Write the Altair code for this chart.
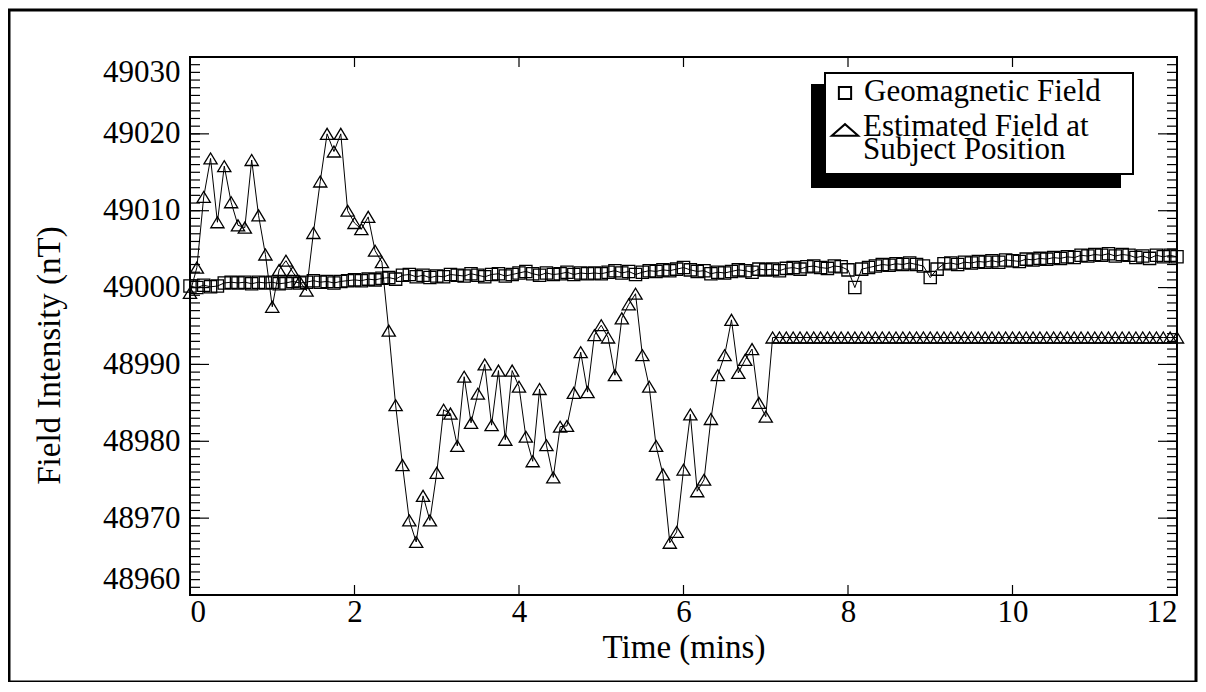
import altair as alt
import pandas as pd

# ---------------- data ----------------
SAMPLE_MIN = 5 / 60  # one sample every 5 seconds

geomagnetic = [
    49000.2, 49000.0, 49000.3, 49000.1, 49000.2,
    49000.6, 49000.7, 49000.6, 49000.7, 49000.5, 49000.7, 49000.6,
    49000.7, 49000.5, 49000.6, 49000.8, 49000.6, 49000.7, 49000.9, 49000.7, 49000.8, 49000.6, 49000.8, 49000.9,
    49001.0, 49000.9, 49001.1, 49001.0, 49001.2, 49001.3, 49001.1, 49001.6, 49001.7, 49001.4, 49001.6, 49001.3,
    49001.5, 49001.4, 49001.7, 49001.6, 49001.5, 49001.8, 49001.6, 49001.4, 49001.7, 49001.8, 49001.5, 49001.7,
    49001.9, 49002.1, 49001.8, 49001.6, 49001.9, 49001.7, 49001.8, 49002.0, 49001.7, 49001.9, 49001.8, 49001.9,
    49001.8, 49002.0, 49002.2, 49001.9, 49002.1, 49001.7, 49002.0, 49002.2, 49002.1, 49002.3, 49002.2, 49002.4,
    49002.6, 49002.3, 49002.1, 49002.2, 49001.8, 49002.0, 49001.9, 49002.1, 49002.3, 49002.2, 49002.0, 49002.4,
    49002.3, 49002.4, 49002.2, 49002.5, 49002.6, 49002.4, 49002.7, 49002.8, 49002.6, 49002.5, 49002.8, 49002.7,
    49002.3, 49000.0, 49002.4, 49002.6, 49002.8, 49003.0, 49002.9, 49003.1, 49003.0, 49003.2, 49003.0, 49002.8,
    49001.3, 49002.4, 49003.1, 49003.2, 49003.0, 49003.3, 49003.2, 49003.4, 49003.3, 49003.5, 49003.3, 49003.6,
    49003.5, 49003.4, 49003.7, 49003.6, 49003.8, 49003.7, 49003.9, 49003.8, 49004.0, 49003.9, 49004.2, 49004.1,
    49004.3, 49004.2, 49004.4, 49004.1, 49004.3, 49004.2, 49003.9, 49004.1, 49003.8, 49004.2, 49004.0, 49004.2,
    49004.0,
]

estimated = [
    48999.3, 49002.6, 49011.8, 49016.8, 49008.5, 49015.8, 49011.1, 49008.1, 49007.8, 49016.6,
    49009.4, 49004.3, 48997.5, 49002.3, 49003.5, 49002.0, 49000.8, 48999.6, 49007.1, 49013.8,
    49020.0, 49017.7, 49020.0, 49010.0, 49008.4, 49007.6, 49009.2, 49004.8, 49003.3, 48994.4,
    48984.7, 48976.9, 48969.7, 48966.9, 48972.9, 48969.7, 48975.9, 48984.1, 48983.6, 48979.4,
    48988.4, 48982.4, 48986.2, 48990.0, 48982.1, 48989.2, 48980.2, 48989.2, 48987.1, 48980.6,
    48977.4, 48986.8, 48979.5, 48975.3, 48981.9, 48982.0, 48986.3, 48991.6, 48986.4, 48993.8,
    48995.1, 48993.5, 48988.6, 48996.0, 48997.8, 48999.2, 48991.2, 48987.1, 48979.4, 48975.7,
    48966.8, 48968.2, 48976.3, 48983.5, 48973.5, 48975.0, 48982.9, 48988.6, 48991.2, 48995.8,
    48988.9, 48990.6, 48992.0, 48985.0, 48983.2,
] + [48993.5] * 60

time_min = [round(i * SAMPLE_MIN, 5) for i in range(len(geomagnetic))]

series_names = ["Geomagnetic Field", "Estimated Field at Subject Position"]
legend_lines = ["Geomagnetic Field", "Estimated Field at", "Subject Position"]

x_ticks = [0, 2, 4, 6, 8, 10, 12]
y_major = [48960, 48970, 48980, 48990, 49000, 49010, 49020, 49030]
y_minor = list(range(48960, 49031))

# ---------------- layout / style ----------------
W, H = 987, 538
FONT = "Liberation Serif"
FS = 31
TFS = 33

df_geo = pd.DataFrame({"time": time_min, "value": geomagnetic, "series": series_names[0]})
df_est = pd.DataFrame({"time": time_min, "value": estimated, "series": series_names[1]})

xs = alt.Scale(domain=[0, 12], nice=False, zero=False)
ys = alt.Scale(domain=[48960, 49030], nice=False, zero=False)

x_axis = alt.Axis(values=x_ticks, title="Time (mins)", ticks=False, domain=False, grid=False,
                  labelPadding=2, titlePadding=4, format="d")
y_axis = alt.Axis(values=y_major, title="Field Intensity (nT)", ticks=False, domain=False, grid=False,
                  labelPadding=10, titlePadding=36, labelFlush=True, format="d", titleY=298)

X = alt.X("time:Q", scale=xs, axis=x_axis)
Y = alt.Y("value:Q", scale=ys, axis=y_axis)

TRI = "M-1,0.83L0,-0.83L1,0.83Z"
TRI_WIDE = "M-1,0.44L0,-0.44L1,0.44Z"

geo_line = alt.Chart(df_geo).mark_line(color="black", strokeWidth=1).encode(x=X, y=Y)
geo_pts = alt.Chart(df_geo).mark_point(shape="square", size=150, filled=False, color="black",
                                       strokeWidth=1.3, opacity=1).encode(x=X, y=Y)
est_line = alt.Chart(df_est).mark_line(color="black", strokeWidth=1).encode(x=X, y=Y)
est_pts = alt.Chart(df_est).mark_point(shape=TRI, size=175, filled=False, color="black",
                                       strokeWidth=1.3, opacity=1).encode(x=X, y=Y)

# inward tick marks (xmgrace style), positioned by the shared scales
ymaj = pd.DataFrame({"value": y_major})
ymin = pd.DataFrame({"value": y_minor})
xmaj = pd.DataFrame({"time": x_ticks})
tick_style = dict(color="black", strokeWidth=1.2)
ticks = [
    alt.Chart(ymaj).mark_rule(**tick_style).encode(y=Y, x=alt.value(0), x2=alt.value(19)),
    alt.Chart(ymaj).mark_rule(**tick_style).encode(y=Y, x=alt.value(W - 19), x2=alt.value(W)),
    alt.Chart(ymin).mark_rule(**tick_style).encode(y=Y, x=alt.value(0), x2=alt.value(10)),
    alt.Chart(ymin).mark_rule(**tick_style).encode(y=Y, x=alt.value(W - 10), x2=alt.value(W)),
    alt.Chart(xmaj).mark_rule(**tick_style).encode(x=X, y=alt.value(H - 10), y2=alt.value(H)),
    alt.Chart(xmaj).mark_rule(**tick_style).encode(x=X, y=alt.value(0), y2=alt.value(10)),
]

# outer page frame
one = pd.DataFrame({"k": [0]})
frame = alt.Chart(one).mark_rect(fillOpacity=0, stroke="black", strokeWidth=3).encode(
    x=alt.value(-181), x2=alt.value(1006), y=alt.value(-47), y2=alt.value(625))

# legend box with drop shadow
leg_shadow = alt.Chart(one).mark_rect(color="black").encode(
    x=alt.value(621), x2=alt.value(931), y=alt.value(27), y2=alt.value(131))
leg_box = alt.Chart(one).mark_rect(fill="white", stroke="black", strokeWidth=2).encode(
    x=alt.value(635), x2=alt.value(943), y=alt.value(16), y2=alt.value(117))
leg_sq = alt.Chart(one).mark_point(shape="square", size=150, filled=False, color="black",
                                   strokeWidth=2, opacity=1).encode(x=alt.value(655), y=alt.value(36))
leg_tri = alt.Chart(one).mark_point(shape=TRI_WIDE, size=700, filled=False, color="black",
                                    strokeWidth=2, opacity=1).encode(x=alt.value(655), y=alt.value(73))
leg_txt1 = alt.Chart(one).mark_text(text=legend_lines[0], font=FONT, fontSize=FS, align="left",
                                    baseline="middle").encode(x=alt.value(674), y=alt.value(35))
leg_txt2 = alt.Chart(one).mark_text(text=legend_lines[1:], font=FONT, fontSize=FS, align="left",
                                    baseline="middle", lineHeight=23).encode(
    x=alt.value(673), y=alt.value(70))

chart = alt.layer(
    geo_line, est_line, geo_pts, est_pts, *ticks, frame,
    leg_shadow, leg_box, leg_sq, leg_tri, leg_txt1, leg_txt2,
).properties(
    width=W, height=H,
    autosize=alt.AutoSizeParams(type="none"),
    padding={"left": 182, "top": 49, "right": 21, "bottom": 87},
    background="white",
).configure_view(
    stroke="black", strokeWidth=2,
).configure_axis(
    labelFont=FONT, titleFont=FONT, labelFontSize=FS, titleFontSize=TFS,
    labelColor="black", titleColor="black", titleFontWeight="normal",
)

chart.save("out.html", embed_options={"renderer": "svg", "actions": False})
